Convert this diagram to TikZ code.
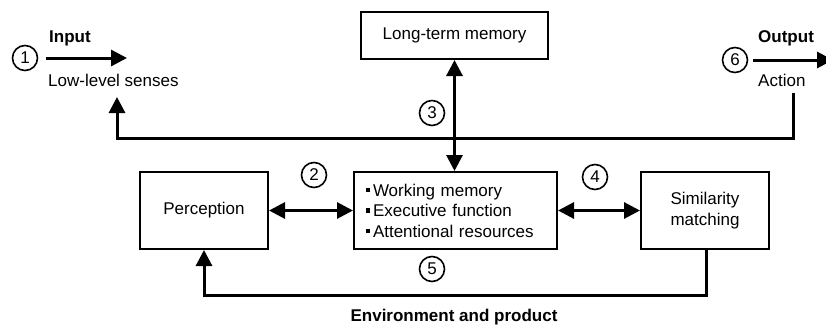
\documentclass[tikz,border=0pt]{standalone}
\usepackage{fontspec}
\setmainfont{Liberation Sans}
\usetikzlibrary{arrows.meta}
\newcommand\sqbul{\rule[4pt]{4.5pt}{4.5pt}\hspace{3pt}}
\begin{document}
\begin{tikzpicture}[x=1pt,y=-1pt,
  every node/.style={font=\fontsize{17}{20.5}\selectfont},
  box/.style={draw,line width=2pt,inner sep=0pt,minimum height=77pt},
  num/.style={draw,circle,line width=1.6pt,minimum size=25pt,inner sep=0pt},
  conn/.style={line width=3pt},
  tip/.style={-{Triangle[length=16pt,width=16pt]}},
  both/.style={{Triangle[length=16pt,width=16pt]}-{Triangle[length=16pt,width=16pt]}},
  lbl/.style={inner sep=0pt,anchor=west}]
\useasboundingbox (0,0) rectangle (826,327);

% boxes
\node[box,minimum width=187pt,minimum height=47pt] (ltm) at (454.5,35.5) {Long-term memory};
\node[box,minimum width=128pt] (perc) at (204,210.5) {Perception};
\node[box,minimum width=203pt,text width=180pt,align=left] (wm) at (455.5,210.5)
  {\sqbul Working memory\\\sqbul Executive function\\\sqbul Attentional resources};
\node[box,minimum width=128pt,align=center] (sim) at (705,210.5) {Similarity\\matching};

% numbers
\node[num] (n1) at (25,58) {1};
\node[num] (n2) at (314,175) {2};
\node[num] (n3) at (432,113) {3};
\node[num] (n4) at (595,177) {4};
\node[num] (n5) at (432,269) {5};
\node[num] (n6) at (735,60) {6};

% labels
\node[lbl,font=\fontsize{17}{20.5}\selectfont\bfseries] (inp) at (49,38) {Input};
\node[lbl] (lls) at (48,80) {Low-level senses};
\node[lbl,font=\fontsize{17}{20.5}\selectfont\bfseries] (outp) at (758,38) {Output};
\node[lbl] (act) at (758,80) {Action};
\node[inner sep=0pt,font=\fontsize{17}{20.5}\selectfont\bfseries] (env) at (454,317) {Environment and product};

% coordinates
\coordinate (inS) at (46,58);
\coordinate (inE) at (127,58);
\coordinate (outS) at (753,60);
\coordinate (outE) at (833,60);
\coordinate (actB) at (793,93);
\coordinate (llsB) at (117,97);

% connectors
\draw[conn,tip] (inS) -- (inE);
\draw[conn,tip] (outS) -- (outE);
\draw[conn,tip] (actB) -- ++(0,45) -| (llsB);
\draw[conn,both] (ltm.south) -- (ltm.south |- wm.north);
\draw[conn,both] (perc.east) -- (wm.west);
\draw[conn,both] (wm.east) -- (sim.west);
\draw[conn,tip] ([xshift=1pt]sim.south) -- ++(0,45) -| (perc.south);
\end{tikzpicture}
\end{document}
